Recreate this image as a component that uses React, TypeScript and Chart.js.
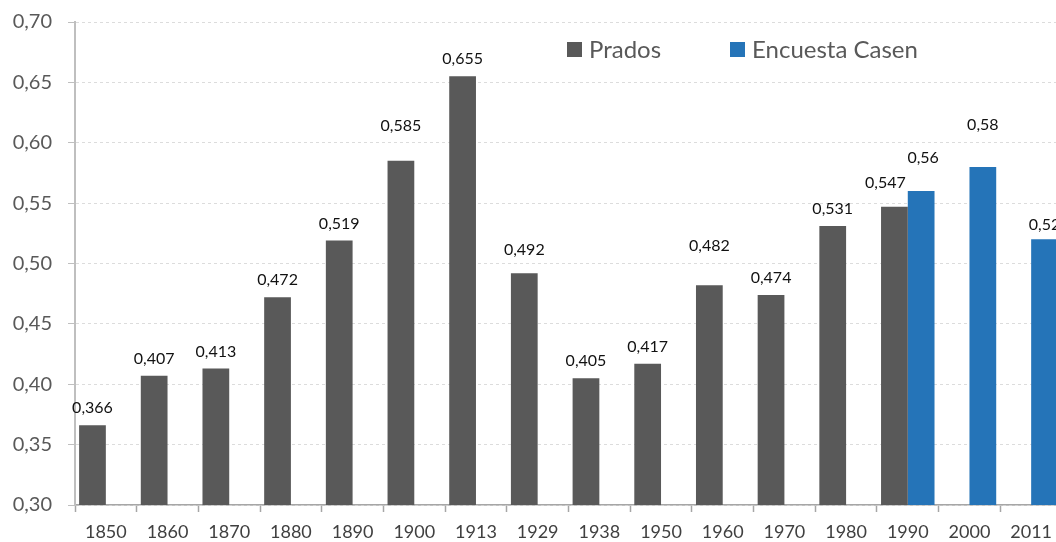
import React, { useEffect, useRef } from "react";
import { Chart, registerables } from "chart.js";

Chart.register(...registerables);

const categories = ["1850", "1860", "1870", "1880", "1890", "1900", "1913", "1929", "1938", "1950", "1960", "1970", "1980", "1990", "2000", "2011"];
const pradosValues = [0.366, 0.407, 0.413, 0.472, 0.519, 0.585, 0.655, 0.492, 0.405, 0.417, 0.482, 0.474, 0.531, 0.547, null, null];
const casenValues = [null, null, null, null, null, null, null, null, null, null, null, null, null, 0.56, 0.58, 0.52];
const seriesNames = ["Prados", "Encuesta Casen"];
const yTicks = [0.3, 0.35, 0.4, 0.45, 0.5, 0.55, 0.6, 0.65, 0.7];

const GRAY = "#595959";
const BLUE = "#2574b8";
const FONT = "Lato, 'Open Sans', sans-serif";

// label lift (px above bar top) per dataset/category, default 17
const labelLift: Record<string, { dy: number; dx?: number }> = {
  "0-1900": { dy: 35 },
  "0-1929": { dy: 23 },
  "0-1960": { dy: 39 },
  "0-1990": { dy: 24, dx: -9 },
  "1-1990": { dy: 33, dx: 2 },
  "1-2000": { dy: 42 },
  "1-2011": { dy: 15 },
};

const fmt = (v: number) => String(v).replace(".", ",");

const valueLabels = {
  id: "valueLabels",
  afterDatasetsDraw(chart: any) {
    const ctx = chart.ctx;
    ctx.save();
    ctx.font = `16px ${FONT}`;
    ctx.fillStyle = "#111111";
    ctx.textAlign = "center";
    ctx.textBaseline = "middle";
    chart.data.datasets.forEach((ds: any, di: number) => {
      const meta = chart.getDatasetMeta(di);
      meta.data.forEach((el: any, i: number) => {
        const v = ds.data[i];
        if (v === null || v === undefined) return;
        const key = `${di}-${categories[i]}`;
        const n = labelLift[key] || { dy: 17 };
        ctx.fillText(fmt(v), el.x + (n.dx || 0), el.y - n.dy);
      });
    });
    ctx.restore();
  },
};

const customLegend = {
  id: "customLegend",
  afterDraw(chart: any) {
    const ctx = chart.ctx;
    const a = chart.chartArea;
    const items = [
      { name: seriesNames[0], color: GRAY, x: a.left + 492 },
      { name: seriesNames[1], color: BLUE, x: a.left + 655 },
    ];
    ctx.save();
    ctx.font = `24px ${FONT}`;
    ctx.textBaseline = "middle";
    ctx.textAlign = "left";
    items.forEach((it) => {
      ctx.fillStyle = it.color;
      ctx.fillRect(it.x, a.top + 20, 15, 15);
      ctx.fillStyle = GRAY;
      ctx.fillText(it.name, it.x + 22, a.top + 28);
    });
    ctx.restore();
  },
};

export default function App() {
  const ref = useRef<HTMLCanvasElement>(null);
  useEffect(() => {
    if (!ref.current) return;
    const chart = new Chart(ref.current, {
      type: "bar",
      data: {
        labels: categories,
        datasets: [
          { label: seriesNames[0], data: pradosValues as any, backgroundColor: GRAY, categoryPercentage: 0.867, barPercentage: 1.0 },
          { label: seriesNames[1], data: casenValues as any, backgroundColor: BLUE, categoryPercentage: 0.867, barPercentage: 1.0 },
        ],
      },
      options: {
        responsive: false,
        animation: false,
        devicePixelRatio: 1,
        layout: { padding: { top: 4, right: 0, left: 0, bottom: 0 } },
        plugins: {
          legend: { display: false },
          tooltip: { enabled: false },
        },
        scales: {
          x: {
            grid: { offset: true, drawOnChartArea: false, tickLength: 7, tickColor: "#a6a6a6", tickWidth: 1.5 },
            border: { color: "#a6a6a6", width: 1.5 },
            ticks: { color: "#404040", font: { family: FONT, size: 18 }, padding: 9, maxRotation: 0, autoSkip: false },
            afterFit: (s: any) => { s.height = 37; },
          },
          y: {
            min: 0.3,
            max: 0.7,
            afterBuildTicks: (s: any) => { s.ticks = yTicks.map((v) => ({ value: v })); },
            grid: { color: "#dcdcdc", tickLength: 7, tickColor: "#bfbfbf", tickBorderDash: [], lineWidth: 1 } as any,
            border: { color: "#bfbfbf", width: 2, dash: [3, 3] },
            ticks: {
              color: GRAY,
              font: { family: FONT, size: 20 },
              padding: 16,
              callback: (v: any) => Number(v).toFixed(2).replace(".", ","),
            },
            afterFit: (s: any) => { s.width = 75; },
          },
        },
      },
      plugins: [valueLabels, customLegend],
    });
    return () => chart.destroy();
  }, []);
  return (
    <div style={{ position: "fixed", left: 0, top: 0, width: 1056, height: 542, overflow: "hidden", background: "#fff" }}>
      <canvas ref={ref} width={1062} height={548} style={{ width: 1062, height: 548, display: "block", marginTop: -6 }} />
    </div>
  );
}
